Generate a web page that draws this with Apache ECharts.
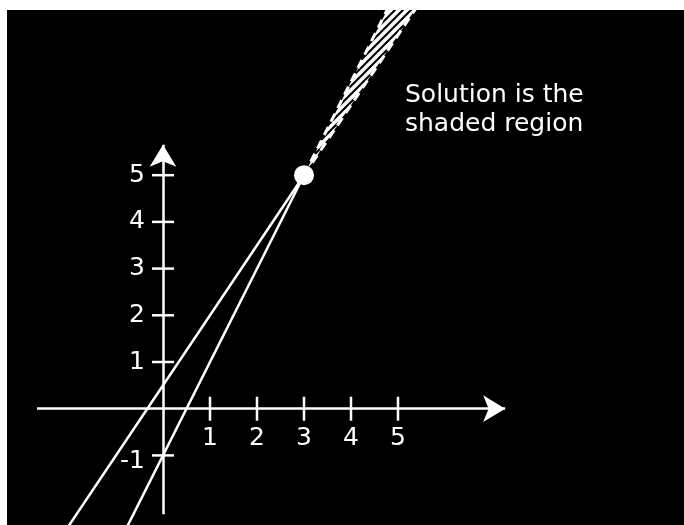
<!DOCTYPE html>
<html>
<head>
<meta charset="utf-8">
<script src="https://cdn.jsdelivr.net/npm/echarts@6/dist/echarts.min.js"></script>
<style>
  html, body { margin: 0; background: #fff; }
  #chart { position: absolute; left: 7px; top: 10px; width: 677px; height: 515px; }
</style>
</head>
<body>
<div id="chart"></div>
<script>
// tick values
var xTicks = [1, 2, 3, 4, 5];
var yTicks = [-1, 1, 2, 3, 4, 5];
// corner point of the solution
var corner = [[3, 5]];
// the two boundary lines, solid below the corner, dashed above it
var lineA = [[-2.2, -2.8], [3, 5]];
var lineADash = [[3, 5], [5.6, 8.9]];
var lineB = [[-0.9, -2.8], [3, 5]];
var lineBDash = [[3, 5], [4.95, 8.9]];
// shaded wedge between the dashed lines
var region = [[3, 5], [5.6, 8.9], [4.95, 8.9]];
// axis line ends (arrow tip on the end)
var xAxisEnds = [[-2.68, 0], [7.28, 0]];
var yAxisEnds = [[0, -2.26], [0, 5.65]];

var FONT = '"Comic Sans MS", "DejaVu Sans", sans-serif';

// stripes for the hatch
function hatchCanvas() {
  var c = document.createElement('canvas');
  c.width = 8; c.height = 8;
  var g = c.getContext('2d');
  g.strokeStyle = '#fff';
  g.lineWidth = 3.5;
  g.beginPath();
  g.moveTo(-2, 10); g.lineTo(10, -2);
  g.moveTo(-2, 2); g.lineTo(2, -2);
  g.moveTo(6, 10); g.lineTo(10, 6);
  g.stroke();
  return c;
}
var hatch = hatchCanvas();

var chart = echarts.init(document.getElementById('chart'));

var labelStyle = { color: '#fff', fontFamily: FONT, fontSize: 25 };

var option = {
  backgroundColor: '#000',
  animation: false,
  title: {
    text: 'Solution is the\nshaded region',
    left: 398,
    top: 71,
    padding: 0,
    textStyle: { color: '#fff', fontFamily: FONT, fontSize: 25, fontWeight: 'normal', lineHeight: 29 }
  },
  grid: { left: 0, right: 0, top: 0, bottom: 0 },
  xAxis: { type: 'value', min: -3.319, max: 11.085, show: false },
  yAxis: { type: 'value', min: -2.49, max: 8.537, show: false },
  series: [
    {
      // axes with arrows
      type: 'line',
      data: [],
      markLine: {
        silent: true,
        symbol: ['none', 'arrow'],
        symbolSize: [20, 22],
        label: { show: false },
        lineStyle: { color: '#fff', width: 2.5, type: 'solid', opacity: 1 },
        data: [
          [{ coord: xAxisEnds[0] }, { coord: xAxisEnds[1] }],
          [{ coord: yAxisEnds[0] }, { coord: yAxisEnds[1] }]
        ]
      }
    },
    {
      // x ticks
      type: 'scatter',
      data: xTicks.map(function (t) { return [t, 0]; }),
      symbol: 'rect',
      symbolSize: [2.5, 24],
      itemStyle: { color: '#fff', opacity: 1 },
      label: Object.assign({
        show: true, position: 'bottom', distance: 5,
        formatter: function (p) { return p.value[0]; }
      }, labelStyle)
    },
    {
      // y ticks, the -1 label sits a bit lower
      type: 'scatter',
      data: yTicks.map(function (t) {
        return t < 0 ? { value: [0, t], label: { offset: [0, 6] } } : [0, t];
      }),
      symbol: 'rect',
      symbolSize: [22, 2.5],
      itemStyle: { color: '#fff', opacity: 1 },
      label: Object.assign({
        show: true, position: 'left', distance: 7,
        formatter: function (p) { return p.value[1]; }
      }, labelStyle)
    },
    {
      type: 'custom',
      coordinateSystem: 'cartesian2d',
      clip: true,
      data: [region[0]],
      renderItem: function (params, api) {
        var pts = region.map(function (p) { return api.coord(p); });
        return {
          type: 'polygon',
          shape: { points: pts },
          style: { fill: { image: hatch, repeat: 'repeat' }, stroke: null }
        };
      }
    },
    { type: 'line', data: lineA, symbol: 'none', lineStyle: { color: '#fff', width: 2.5 } },
    { type: 'line', data: lineB, symbol: 'none', lineStyle: { color: '#fff', width: 2.5 } },
    { type: 'line', data: lineADash, symbol: 'none', lineStyle: { color: '#fff', width: 3, type: [9, 6] } },
    { type: 'line', data: lineBDash, symbol: 'none', lineStyle: { color: '#fff', width: 3, type: [9, 6] } },
    {
      type: 'scatter',
      data: corner,
      symbolSize: 20,
      itemStyle: { color: '#fff', opacity: 1 },
      z: 5
    }
  ]
};

chart.setOption(option);
</script>
</body>
</html>
